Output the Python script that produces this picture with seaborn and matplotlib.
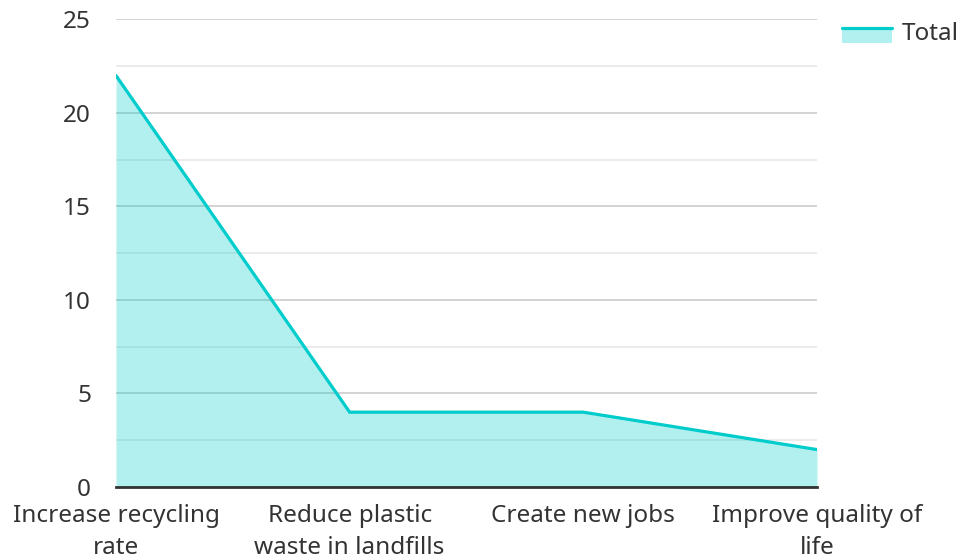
import matplotlib
matplotlib.use("Agg")
import matplotlib.pyplot as plt
import seaborn as sns
import pandas as pd
from matplotlib.patches import Rectangle
from matplotlib.lines import Line2D
from matplotlib.legend_handler import HandlerBase

categories = ["Increase recycling\nrate", "Reduce plastic\nwaste in landfills",
              "Create new jobs", "Improve quality of\nlife"]
totals = [22, 4, 4, 2]
y_ticks = [0, 5, 10, 15, 20, 25]
series_name = "Total"

LINE = "#00cccc"
TEXT = "#333333"
FS = 17.5

sns.set_theme(style="white")
plt.rcParams["font.family"] = ["Noto Sans", "DejaVu Sans"]

df = pd.DataFrame({"pos": range(len(categories)), "value": totals})

fig = plt.figure(figsize=(9.58, 5.6), dpi=100)
ax = fig.add_axes([0.1211, 0.1304, 0.7317, 0.8348])

ax.fill_between(df["pos"], df["value"], 0, color=LINE, alpha=0.3, linewidth=0, zorder=2)
sns.lineplot(data=df, x="pos", y="value", color=LINE, linewidth=2.3, ax=ax, zorder=3,
             solid_joinstyle="miter")

ax.set_xlim(0, len(categories) - 1)
ax.set_ylim(0, 25)
ax.set_yticks(y_ticks)
ax.set_yticks([2.5, 7.5, 12.5, 17.5, 22.5], minor=True)
ax.set_xticks(df["pos"])
ax.set_xticklabels(categories, linespacing=1.45)

ax.grid(axis="y", which="major", color="#cccccc", linewidth=1.2, zorder=0)
ax.grid(axis="y", which="minor", color="#e8e8e8", linewidth=1.2, zorder=0)
ax.grid(axis="x", visible=False)
ax.set_axisbelow(True)

for side in ["left", "right", "top"]:
    ax.spines[side].set_visible(False)
ax.spines["bottom"].set_color(TEXT)
ax.spines["bottom"].set_linewidth(2)
ax.spines["bottom"].set_zorder(4)

ax.tick_params(axis="y", which="both", length=0, pad=18, labelsize=FS, labelcolor=TEXT)
ax.tick_params(axis="x", length=0, pad=12, labelsize=FS, labelcolor=TEXT)
ax.set_xlabel("")
ax.set_ylabel("")


class AreaLineHandler(HandlerBase):
    def create_artists(self, legend, orig_handle, xdescent, ydescent,
                       width, height, fontsize, trans):
        shift = -0.25 * height
        rect = Rectangle((-xdescent, -ydescent + shift), width, height, facecolor=LINE,
                         alpha=0.3, edgecolor="none", transform=trans)
        top = height - ydescent + shift
        line = Line2D([-xdescent, -xdescent + width], [top, top],
                      color=LINE, linewidth=2.3, transform=trans)
        return [rect, line]


handle = Line2D([], [], color=LINE)
leg = ax.legend([handle], [series_name], handler_map={Line2D: AreaLineHandler()},
                loc="center left", bbox_to_anchor=(1 + 25 / 701, 1 - (34.5 - 19.5) / 468),
                frameon=False, fontsize=FS, handlelength=2.05, handleheight=0.53,
                handletextpad=0.4, borderpad=0, borderaxespad=0)
for t in leg.get_texts():
    t.set_color(TEXT)

fig.savefig("out.png", dpi=100)
